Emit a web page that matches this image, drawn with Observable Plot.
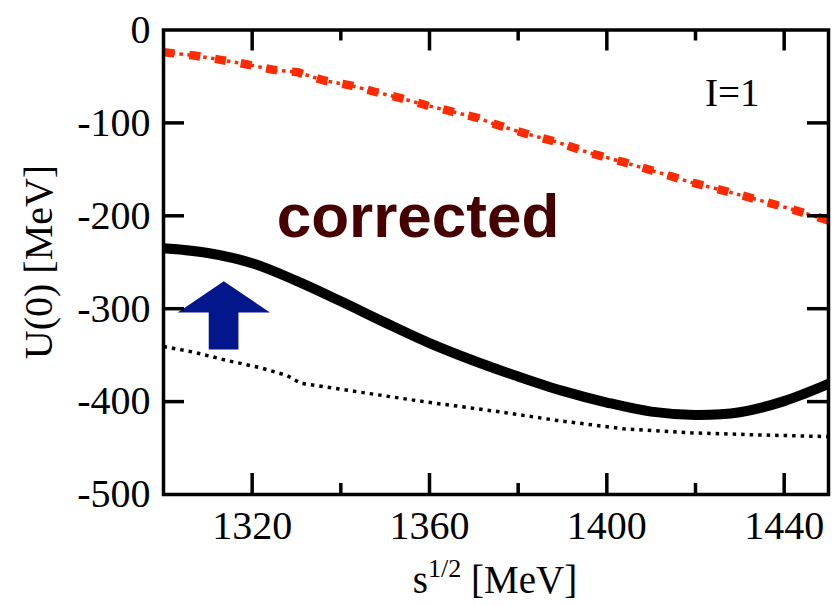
<!DOCTYPE html>
<html>
<head>
<meta charset="utf-8">
<script src="https://cdn.jsdelivr.net/npm/d3@7"></script>
<script src="https://cdn.jsdelivr.net/npm/@observablehq/plot@0.6"></script>
<style>
  html, body { margin: 0; padding: 0; background: white; }
  #chart svg { display: block; }
</style>
</head>
<body>
<div id="chart"></div>
<script>
// ---- data ----
const xMajor = [1320, 1360, 1400, 1440];
const xMinor = [1340, 1380, 1420];
const yTicks = [-100, -200, -300, -400];
const yLabels = [0, -100, -200, -300, -400, -500];

// thick solid ("corrected")
const solidX = [1300, 1310, 1320, 1330, 1340, 1350, 1360, 1370, 1380, 1390, 1400, 1410, 1420, 1430, 1440, 1450];
const solidY = [-235, -240, -251, -270, -292, -315, -337, -356, -373, -388.5, -401, -410.8, -414.3, -411.4, -399.5, -381];

// dotted black
const dotX = [1300, 1306.8, 1314.4, 1321.9, 1327.9, 1330.9, 1336.9, 1344.4, 1352, 1359.5, 1367, 1375.3, 1388.8, 1403.8, 1418.9, 1433.9, 1450];
const dotY = [-340.7, -346.8, -355.8, -363.6, -371.9, -380.2, -384.5, -389.9, -395.3, -400.6, -405.3, -410.7, -420.3, -429.3, -433.6, -435.8, -437.7];

// red dash-dot
const redX = [1300, 1306.8, 1312.9, 1318.9, 1324.9, 1330.2, 1336.2, 1342.2, 1347.4, 1353.5, 1359.5, 1364.7, 1370.8, 1374.5, 1381.3, 1388.8, 1396.3, 1403.8, 1411.4, 1418.9, 1426.3, 1433.9, 1441.4, 1450];
const redY = [-23.9, -27.4, -32.1, -37.1, -42.9, -45.4, -54.4, -59.7, -66.2, -73.4, -81.3, -87.4, -94.5, -101, -111, -120.7, -132.6, -142.3, -153, -163.8, -172.8, -182.5, -192.5, -205];

// arrow annotation outline (data coordinates)
const arrowX = [1313.6, 1324.0, 1316.9, 1316.9, 1310.2, 1310.2, 1303.2, 1313.6];
const arrowY = [-270.4, -304.1, -304.1, -343.9, -343.9, -304.1, -304.1, -270.4];

const annotations = [
  {x: 1357.4, y: -223, text: "corrected"},
  {x: 1428.3, y: -82.3, text: "I=1"}
];

const solid = solidX.map((x, i) => ({x, y: solidY[i]}));
const dotted = dotX.map((x, i) => ({x, y: dotY[i]}));
const red = redX.map((x, i) => ({x, y: redY[i]}));
const arrow = arrowX.map((x, i) => ({x, y: arrowY[i]}));

const fW = 836 - 163 - 8;
const fH = 606 - 29.5 - 112;

const chart = Plot.plot({
  width: 836,
  height: 606,
  marginLeft: 163,
  marginRight: 8,
  marginTop: 29.5,
  marginBottom: 112,
  x: {domain: [1300, 1450]},
  y: {domain: [-500, 0]},
  style: {fontFamily: "Liberation Serif", background: "white", color: "black"},
  marks: [
    Plot.axisX(xMajor, {tickSize: 0, tickPadding: 16, fontSize: 40, label: null, tickFormat: d => String(d)}),
    Plot.axisY(yLabels, {tickSize: 0, tickPadding: 13, fontSize: 40, label: null, tickFormat: d => String(d)}),
    // lines
    Plot.line(dotted, {x: "x", y: "y", stroke: "black", strokeWidth: 3.5, strokeDasharray: "3.5,5", strokeLinecap: "butt", clip: true}),
    Plot.line(red, {x: "x", y: "y", stroke: "#ff2a00", strokeWidth: 3.5, strokeDasharray: "3.5,4.5", strokeLinecap: "butt", clip: true}),
    Plot.line(red, {x: "x", y: "y", stroke: "#ff2a00", strokeWidth: 8.5, strokeDasharray: "11,15", strokeLinecap: "butt", clip: true}),
    Plot.line(solid, {x: "x", y: "y", stroke: "black", strokeWidth: 10, curve: "catmull-rom", clip: true}),
    // arrow
    Plot.line(arrow, {x: "x", y: "y", fill: "#03168c", stroke: "none"}),
    // annotation texts
    Plot.text([annotations[0]], {x: "x", y: "y", text: "text", fontFamily: "Liberation Sans", fontWeight: "bold", fontSize: 62, fill: "#460000", textAnchor: "middle", lineAnchor: "bottom"}),
    Plot.text([annotations[1]], {x: "x", y: "y", text: "text", fontSize: 39, fill: "black", textAnchor: "middle", lineAnchor: "bottom"}),
    // inward ticks
    Plot.ruleX(xMajor, {x: d => d, insetTop: fH - 21, stroke: "black", strokeWidth: 3.5}),
    Plot.ruleX(xMajor, {x: d => d, insetBottom: fH - 21, stroke: "black", strokeWidth: 3.5}),
    Plot.ruleX(xMinor, {x: d => d, insetTop: fH - 11, stroke: "black", strokeWidth: 3.5}),
    Plot.ruleX(xMinor, {x: d => d, insetBottom: fH - 11, stroke: "black", strokeWidth: 3.5}),
    Plot.ruleY(yTicks, {y: d => d, insetRight: fW - 21, stroke: "black", strokeWidth: 3.5}),
    Plot.ruleY(yTicks, {y: d => d, insetLeft: fW - 21, stroke: "black", strokeWidth: 3.5}),
    Plot.frame({stroke: "black", strokeWidth: 3.5})
  ]
});

const svg = d3.select(chart);
// y-axis label
svg.append("text")
  .attr("transform", "translate(52,262) rotate(-90)")
  .attr("text-anchor", "middle")
  .attr("font-family", "Liberation Serif")
  .attr("font-size", 40)
  .attr("fill", "black")
  .text("U(0) [MeV]");
// x-axis label with superscript
const xl = svg.append("text")
  .attr("x", 495)
  .attr("y", 593)
  .attr("text-anchor", "middle")
  .attr("font-family", "Liberation Serif")
  .attr("font-size", 39)
  .attr("fill", "black");
xl.append("tspan").text("s");
xl.append("tspan").attr("font-size", 26).attr("dy", -16).text("1/2");
xl.append("tspan").attr("dy", 16).text(" [MeV]");

document.getElementById("chart").appendChild(chart);
</script>
</body>
</html>
